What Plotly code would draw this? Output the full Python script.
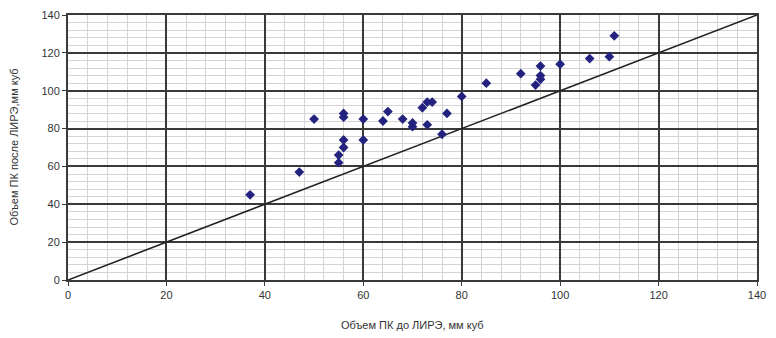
import plotly.graph_objects as go

x_before = [37, 47, 50, 55, 55, 56, 56, 56, 56, 60, 60, 64, 65, 68, 70, 70, 72, 73, 73, 74,
            76, 77, 80, 85, 92, 95, 96, 96, 96, 100, 106, 110, 111]
y_after = [45, 57, 85, 62, 66, 70, 74, 86, 88, 74, 85, 84, 89, 85, 81, 83, 91, 82, 94, 94,
           77, 88, 97, 104, 109, 103, 106, 108, 113, 114, 117, 118, 129]
line_x = [0, 140]
line_y = [0, 140]
ticks = [0, 20, 40, 60, 80, 100, 120, 140]

FONT = "Arial, Liberation Sans, sans-serif"

fig = go.Figure()
fig.add_trace(go.Scatter(x=line_x, y=line_y, mode="lines",
                         line=dict(color="#222222", width=1.6), showlegend=False,
                         hoverinfo="skip"))
fig.add_trace(go.Scatter(x=x_before, y=y_after, mode="markers",
                         marker=dict(symbol="diamond", size=7.5, color="#23237f"),
                         showlegend=False))

axis_common = dict(
    range=[0, 140], tickvals=ticks, showgrid=True, gridcolor="#3a3a3a", gridwidth=2,
    zeroline=False, showline=True, linecolor="#3a3a3a", linewidth=2, mirror=True,
    ticks="outside", ticklen=4, tickcolor="#3a3a3a", automargin=False,
    tickfont=dict(family=FONT, size=11, color="#333333"),
    minor=dict(dtick=4, showgrid=True, gridcolor="#d4d4d4", gridwidth=1),
)

# page body has an 8px margin; figure is sized/offset to compensate
fig.update_layout(
    width=768, height=330,
    margin=dict(l=60, r=19, t=7, b=58),
    paper_bgcolor="white", plot_bgcolor="white",
    xaxis=dict(**axis_common),
    yaxis=dict(**axis_common),
    annotations=[
        dict(text="Объем ПК до ЛИРЭ, мм куб", xref="paper", yref="paper", x=0.5, y=0,
             yshift=-45, showarrow=False, xanchor="center", yanchor="middle",
             font=dict(family=FONT, size=11, color="#333333")),
        dict(text="Объем ПК после ЛИРЭ,мм куб", xref="paper", yref="paper", x=0, y=0.5,
             xshift=-55, showarrow=False, textangle=-90, xanchor="center", yanchor="middle",
             font=dict(family=FONT, size=11, color="#333333")),
    ],
)

fig.write_html("out.html")
